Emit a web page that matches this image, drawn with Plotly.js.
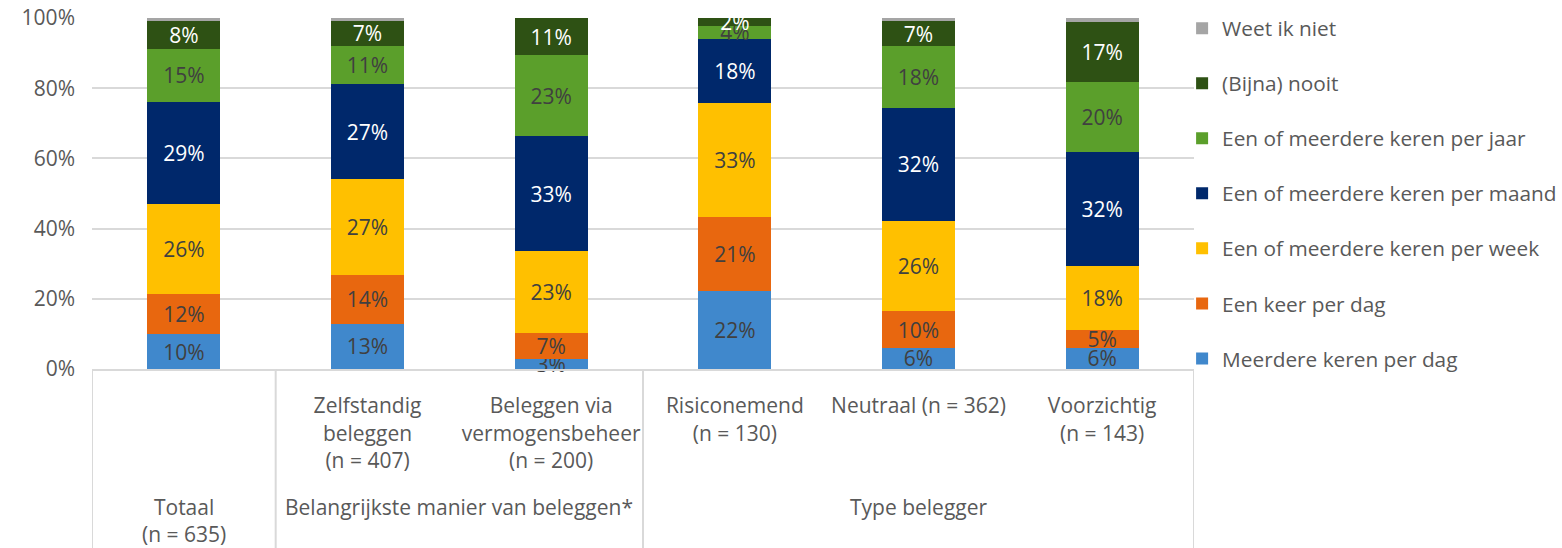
<!DOCTYPE html>
<html>
<head>
<meta charset="utf-8">
<script src="https://cdn.plot.ly/plotly-3.0.1.min.js"></script>
<style>
  html, body { margin: 0; padding: 0; background: #ffffff; }
  #chart { width: 1562px; height: 548px; }
</style>
</head>
<body>
<div id="chart"></div>
<script>
// ---- Data ----
const categories = ['Totaal', 'Zelfstandig beleggen', 'Beleggen via vermogensbeheer', 'Risiconemend', 'Neutraal', 'Voorzichtig'];
const tickLabels = ['', 'Zelfstandig<br>beleggen<br>(n = 407)', 'Beleggen via<br>vermogensbeheer<br>(n = 200)', 'Risiconemend<br>(n = 130)', 'Neutraal (n = 362)', 'Voorzichtig<br>(n = 143)'];
const groupLabels = ['Totaal<br>(n = 635)', 'Belangrijkste manier van beleggen*', 'Type belegger'];
const groupFirst = [0, 1, 3];
const groupLast = [0, 2, 5];

const seriesNames = ['Meerdere keren per dag', 'Een keer per dag', 'Een of meerdere keren per week', 'Een of meerdere keren per maand', 'Een of meerdere keren per jaar', '(Bijna) nooit', 'Weet ik niet'];
const meerdereKerenPerDag   = [9.9, 12.9, 2.8, 22.1, 6.0, 6.0];
const eenKeerPerDag         = [11.6, 13.9, 7.4, 21.1, 10.4, 5.1];
const perWeek               = [25.6, 27.3, 23.4, 32.5, 25.9, 18.2];
const perMaand              = [29.1, 27.1, 32.8, 18.3, 32.0, 32.4];
const perJaar               = [15.1, 10.9, 23.0, 3.8, 17.6, 20.2];
const bijnaNooit            = [7.9, 7.1, 10.6, 2.2, 7.3, 17.0];
const weetIkNiet            = [0.8, 0.8, 0.0, 0.0, 0.8, 1.1];
const seriesValues = [meerdereKerenPerDag, eenKeerPerDag, perWeek, perMaand, perJaar, bijnaNooit, weetIkNiet];

const yTickVals = [0, 20, 40, 60, 80, 100];
const yTickLabels = ['0%', '20%', '40%', '60%', '80%', '100%'];

// ---- Styles ----
const colors = ['#4088CC', '#E8670F', '#FFC000', '#00286B', '#5B9F2B', '#2E5114', '#A5A5A5'];
const labelColors = ['#404040', '#404040', '#404040', '#FFFFFF', '#404040', '#FFFFFF', '#404040'];
const FONT = '"Open Sans", "DejaVu Sans", sans-serif';
const GREY = '#595959';
const LINE = '#D9D9D9';

const traces = seriesNames.map((name, i) => ({
  type: 'bar',
  name: name,
  x: categories,
  y: seriesValues[i],
  legendgroup: 'g' + i,
  legendrank: seriesNames.length - i,
  marker: { color: colors[i], line: { width: 0 } },
  texttemplate: i === 6 ? '' : '%{y:.0f}%',
  textposition: i === 6 ? 'none' : 'inside',
  insidetextanchor: 'middle',
  textangle: 0,
  constraintext: 'none',
  cliponaxis: false,
  textfont: { family: FONT, size: 21, color: labelColors[i] },
  hoverinfo: 'skip'
}));

// group labels + dividers (in data coordinates of the category axis)
const annotations = groupLabels.map((t, i) => ({
  text: t,
  xref: 'x', yref: 'paper',
  x: (groupFirst[i] + groupLast[i]) / 2,
  y: -0.348,
  xanchor: 'center', yanchor: 'top',
  showarrow: false,
  font: { family: FONT, size: 21, color: GREY }
}));

const dividerPositions = [groupFirst[0] - 0.5].concat(groupLast.map(v => v + 0.5));
const shapes = dividerPositions.map(xv => ({
  type: 'line', xref: 'x', yref: 'paper',
  x0: xv, x1: xv, y0: 0, y1: -0.7,
  line: { color: LINE, width: 2 }
}));

const layout = {
  width: 1562,
  height: 548,
  margin: { l: 92, r: 368, t: 18, b: 179, pad: 0, autoexpand: false },
  paper_bgcolor: '#FFFFFF',
  plot_bgcolor: '#FFFFFF',
  barmode: 'stack',
  bargap: 0.604,
  font: { family: FONT, size: 21, color: GREY },
  uniformtext: { mode: 'show', minsize: 21 },
  showlegend: true,
  legend: {
    x: 0.9892, xanchor: 'left',
    y: 1.028, yanchor: 'top',
    traceorder: 'grouped',
    tracegroupgap: 25,
    maxheight: 540,
    font: { family: FONT, size: 20.8, color: GREY },
    bgcolor: 'rgba(0,0,0,0)',
    itemclick: false
  },
  xaxis: {
    type: 'category',
    tickmode: 'array',
    tickvals: categories,
    ticktext: tickLabels,
    ticks: '',
    showgrid: false,
    showline: true,
    linecolor: LINE,
    linewidth: 2,
    zeroline: false,
    tickfont: { family: FONT, size: 21, color: GREY },
    ticklabelstandoff: 17,
    range: [-0.5, 5.5],
    fixedrange: true
  },
  yaxis: {
    range: [0, 100],
    tickmode: 'array',
    tickvals: yTickVals,
    ticktext: yTickLabels,
    showgrid: true,
    gridcolor: LINE,
    gridwidth: 2,
    showline: false,
    zeroline: false,
    ticks: '',
    ticklabelstandoff: 16,
    tickfont: { family: FONT, size: 21, color: GREY },
    fixedrange: true
  },
  annotations: annotations,
  shapes: shapes
};

Plotly.newPlot('chart', traces, layout, { displayModeBar: false, staticPlot: true });
</script>
</body>
</html>
